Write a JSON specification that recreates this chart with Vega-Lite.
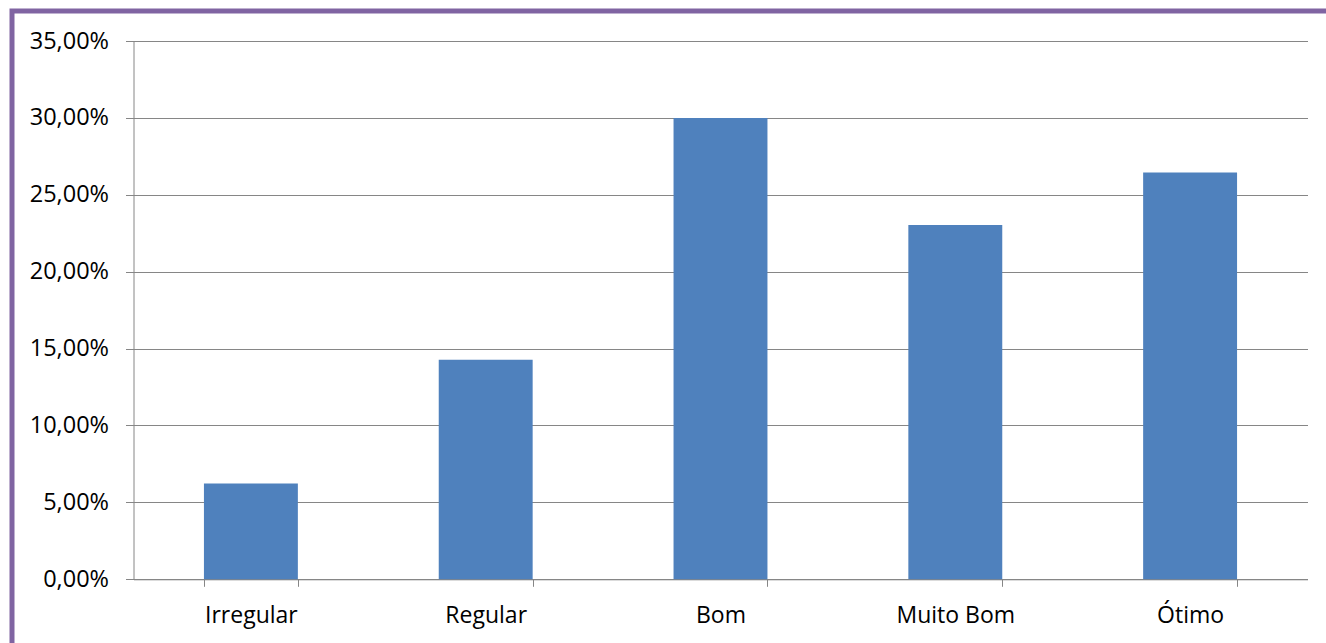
{
  "$schema": "https://vega.github.io/schema/vega-lite/v6.json",
  "autosize": {"type": "none"},
  "padding": {"left": 12, "top": 11, "right": 0, "bottom": 0},
  "width": 1330,
  "height": 640,
  "background": "white",
  "config": {
    "view": {"stroke": "#8064a2", "strokeWidth": 5, "fill": "white"},
    "font": "Open Sans"
  },
  "data": {
    "values": [
      {"categoria": "Irregular", "percentual": 0.0623},
      {"categoria": "Regular", "percentual": 0.1427},
      {"categoria": "Bom", "percentual": 0.3},
      {"categoria": "Muito Bom", "percentual": 0.2303},
      {"categoria": "Ótimo", "percentual": 0.2645}
    ]
  },
  "mark": {"type": "bar", "color": "#4f81bd"},
  "encoding": {
    "x": {
      "field": "categoria",
      "type": "nominal",
      "sort": null,
      "scale": {"range": [121.5, 1295.5], "paddingInner": 0.6, "paddingOuter": 0.3},
      "axis": {
        "title": null,
        "orient": "bottom",
        "offset": -71.7,
        "labelAngle": 0,
        "tickBand": "extent",
        "grid": false,
        "domainColor": "#868686",
        "domainWidth": 1,
        "tickColor": "#868686",
        "tickWidth": 1,
        "tickSize": 7,
        "labelFont": "Open Sans",
        "labelFontSize": 23,
        "labelColor": "#000000",
        "labelBaseline": "alphabetic",
        "labelPadding": 36
      }
    },
    "y": {
      "field": "percentual",
      "type": "quantitative",
      "scale": {"domain": [0, 0.35], "range": [568.3, 30], "nice": false},
      "axis": {
        "title": null,
        "orient": "left",
        "offset": -121.5,
        "values": [0, 0.05, 0.1, 0.15, 0.2, 0.25, 0.3, 0.35],
        "labelExpr": "replace(format(datum.value * 100, '.2f'), '.', ',') + '%'",
        "grid": true,
        "gridColor": "#868686",
        "gridWidth": 1,
        "domainColor": "#868686",
        "domainWidth": 1,
        "tickColor": "#868686",
        "tickWidth": 1,
        "tickSize": 8,
        "labelFont": "Open Sans",
        "labelFontSize": 23.5,
        "labelColor": "#000000",
        "labelPadding": 17,
        "labelBaseline": "middle"
      }
    }
  }
}
